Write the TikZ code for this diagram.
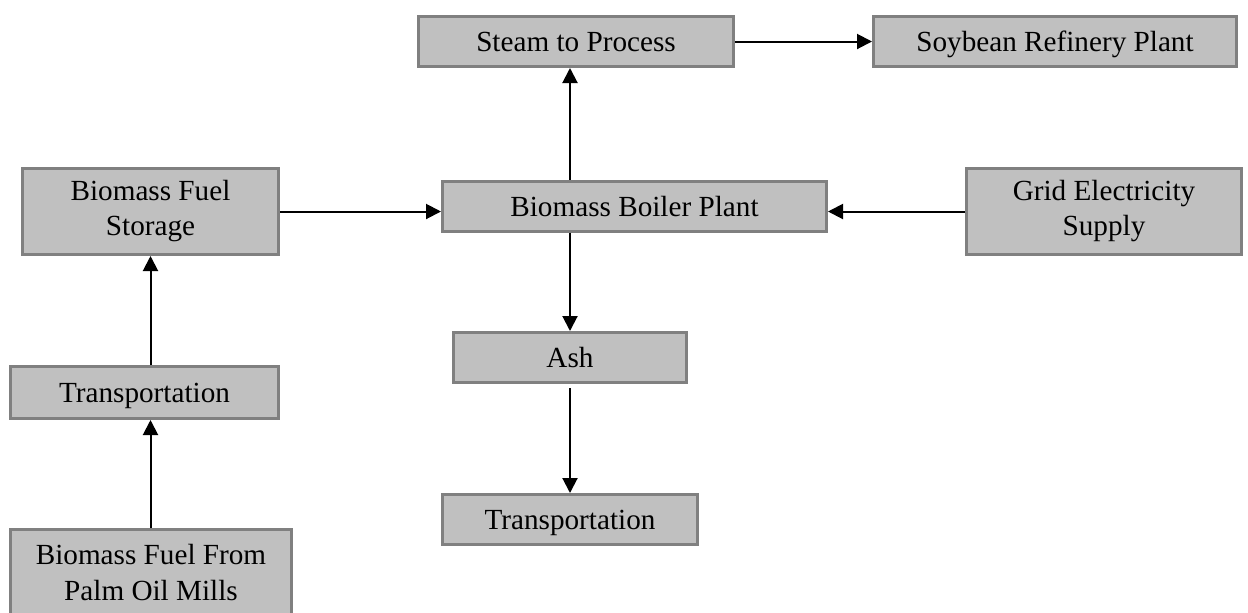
\documentclass[tikz,border=0pt]{standalone}
\usepackage{fontspec}
\setmainfont{Liberation Serif}
\usetikzlibrary{arrows.meta,positioning}
\definecolor{boxfill}{HTML}{C0C0C0}
\definecolor{boxline}{HTML}{808080}
\begin{document}
\begin{tikzpicture}
      [x=0.5pt, y=-0.5pt,
       box/.style={rectangle, draw=boxline, fill=boxfill, line width=1.5pt, inner sep=0pt,
                   align=center, minimum height=25pt, font=\fontsize{14.6}{17.5}\selectfont},
       flat box/.style={box, text height=10pt, text depth=0pt},
       tall box/.style={box, minimum height=43pt},
       link/.style={-{Triangle[length=7.5pt,width=7.5pt]}, line width=1pt}]
      \useasboundingbox (0,0) rectangle (1248,612);

      \node[flat box, minimum width=157.5pt] (stm) at (576,41.5) {Steam to Process};
      \node[flat box, minimum width=181.5pt] (soy) at (1055,41.5) {Soybean Refinery Plant};

      \node[tall box, minimum width=128pt] (sto) at (150.5,211.5) {Biomass Fuel\\Storage};
      \node[flat box, minimum width=192pt] (blr) at (634.5,206) {Biomass Boiler Plant};
      \node[tall box, minimum width=137.5pt] (grd) at (1104,211.5) {Grid Electricity\\Supply};

      \node[flat box, minimum width=116.5pt] (ash) at (570,357.5) {Ash};
      \node[flat box, minimum width=127.5pt] (tr2) at (570,519.5) {Transportation};

      \node[flat box, minimum width=134pt, minimum height=26pt] (tr1) at (144.5,392.5) {Transportation};
      \node[tall box, minimum width=140.5pt] (plm) at (151,572.5) {Biomass Fuel From\\Palm Oil Mills};

      \draw[link] (stm) -- (soy);
      \draw[link] (blr.north -| ash.north) -- (stm.south -| ash.north);
      \draw[link] (blr.south -| ash.north) -- (ash.north);
      \draw[link, shorten <=2pt] (ash.south) -- (tr2.north);
      \draw[link] (sto.east) -- (sto.east -| blr.west);
      \draw[link] (grd.west) -- (grd.west -| blr.east);
      \draw[link] (tr1.north -| sto.south) -- (sto.south);
      \draw[link] (plm.north -| sto.south) -- (tr1.south -| sto.south);
   \end{tikzpicture}
\end{document}
